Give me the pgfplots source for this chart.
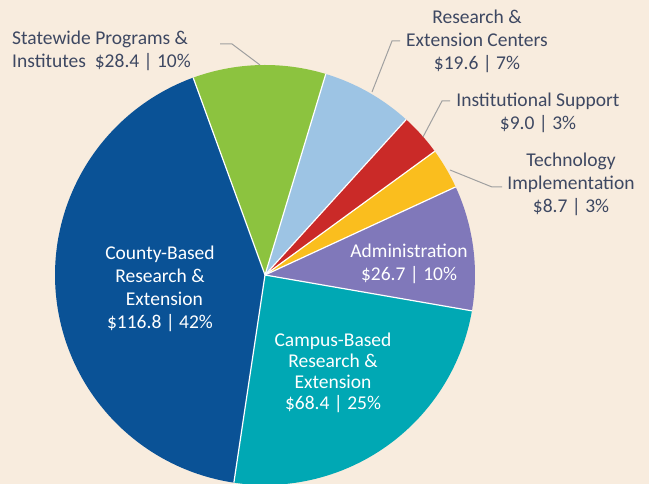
\documentclass[border=0pt]{standalone}
\usepackage{fontspec}
\setmainfont{Carlito}
\usepackage{pgfplots}
\usepackage{pgfplotstable}
\pgfplotsset{compat=1.18}

\definecolor{bgbeige}{RGB}{248,236,222}
\definecolor{county}{RGB}{10,82,150}
\definecolor{campus}{RGB}{0,168,180}
\definecolor{admin}{RGB}{128,120,186}
\definecolor{tech}{RGB}{250,190,30}
\definecolor{inst}{RGB}{202,42,40}
\definecolor{centers}{RGB}{157,196,228}
\definecolor{statewide}{RGB}{140,195,63}
\definecolor{labeltext}{RGB}{62,72,98}
\definecolor{leader}{RGB}{160,160,160}

\tikzset{lbl/.style={font=\fontsize{19.5}{23}\selectfont, inner sep=0pt}}

% budget in $ millions
\pgfplotstableread{
part value
county 116.8
campus 68.4
admin 26.7
tech 8.7
inst 9.0
centers 19.6
statewide 28.4
}\budget

\begin{document}
\begin{tikzpicture}
\pgfplotstablegetelem{0}{value}\of\budget \let\vCounty\pgfplotsretval
\pgfplotstablegetelem{1}{value}\of\budget \let\vCampus\pgfplotsretval
\pgfplotstablegetelem{2}{value}\of\budget \let\vAdmin\pgfplotsretval
\pgfplotstablegetelem{3}{value}\of\budget \let\vTech\pgfplotsretval
\pgfplotstablegetelem{4}{value}\of\budget \let\vInst\pgfplotsretval
\pgfplotstablegetelem{5}{value}\of\budget \let\vCenters\pgfplotsretval
\pgfplotstablegetelem{6}{value}\of\budget \let\vStatewide\pgfplotsretval
\pgfmathsetmacro\k{360/(\vCounty+\vCampus+\vAdmin+\vTech+\vInst+\vCenters+\vStatewide)}
% slice boundaries, clockwise from the county/statewide edge
\pgfmathsetmacro\aA{110}
\pgfmathsetmacro\aB{\aA-\vStatewide*\k}
\pgfmathsetmacro\aC{\aB-\vCenters*\k}
\pgfmathsetmacro\aD{\aC-\vInst*\k}
\pgfmathsetmacro\aE{\aD-\vTech*\k}
\pgfmathsetmacro\aF{\aE-\vAdmin*\k}
\pgfmathsetmacro\aG{\aF-\vCampus*\k}
\pgfmathsetmacro\aH{\aA-360}
\begin{axis}[
x=1pt, y=1pt,
xmin=0, xmax=649, ymin=0, ymax=484,
axis lines=none,
ticks=none,
no markers,
clip=true,
]
\fill[bgbeige] (axis cs:0,0) rectangle (axis cs:649,484);

\addplot[fill=statewide, draw=none, domain=\aB:\aA, samples=60, variable=\t] ({265+210*cos(\t)},{209+210*sin(\t)}) -- (axis cs:265,209) -- cycle;
\addplot[fill=centers, draw=none, domain=\aC:\aB, samples=60, variable=\t] ({265+210*cos(\t)},{209+210*sin(\t)}) -- (axis cs:265,209) -- cycle;
\addplot[fill=inst, draw=none, domain=\aD:\aC, samples=40, variable=\t] ({265+210*cos(\t)},{209+210*sin(\t)}) -- (axis cs:265,209) -- cycle;
\addplot[fill=tech, draw=none, domain=\aE:\aD, samples=40, variable=\t] ({265+210*cos(\t)},{209+210*sin(\t)}) -- (axis cs:265,209) -- cycle;
\addplot[fill=admin, draw=none, domain=\aF:\aE, samples=60, variable=\t] ({265+210*cos(\t)},{209+210*sin(\t)}) -- (axis cs:265,209) -- cycle;
\addplot[fill=campus, draw=none, domain=\aG:\aF, samples=100, variable=\t] ({265+210*cos(\t)},{209+210*sin(\t)}) -- (axis cs:265,209) -- cycle;
\addplot[fill=county, draw=none, domain=\aH:\aG, samples=120, variable=\t] ({265+210*cos(\t)},{209+210*sin(\t)}) -- (axis cs:265,209) -- cycle;

% white separators
\draw[white, line width=1.2pt] (axis cs:265,209) -- ++(\aA:210pt);
\draw[white, line width=1.2pt] (axis cs:265,209) -- ++(\aB:210pt);
\draw[white, line width=1.2pt] (axis cs:265,209) -- ++(\aC:210pt);
\draw[white, line width=1.2pt] (axis cs:265,209) -- ++(\aD:210pt);
\draw[white, line width=1.2pt] (axis cs:265,209) -- ++(\aE:210pt);
\draw[white, line width=1.2pt] (axis cs:265,209) -- ++(\aF:210pt);
\draw[white, line width=1.2pt] (axis cs:265,209) -- ++(\aG:210pt);

% leader lines
\draw[leader, line width=1pt] (axis cs:220,440) -- (axis cs:232,440) -- (axis cs:260,419);
\draw[leader, line width=1pt] (axis cs:400,443) -- (axis cs:392,443) -- (axis cs:372,392);
\draw[leader, line width=1pt] (axis cs:450,383) -- (axis cs:442,383) -- (axis cs:423,347);
\draw[leader, line width=1pt] (axis cs:502,297) -- (axis cs:492,297) -- (axis cs:450,314);

% labels
\node[lbl, labeltext, align=left, anchor=north west] at (axis cs:12,453) {Statewide Programs \&\\Institutes~~\$28.4 | 10\%};
\node[lbl, labeltext, align=center, anchor=north] at (axis cs:477,474) {Research \&\\Extension Centers\\\$19.6 | 7\%};
\node[lbl, labeltext, align=center, anchor=north] at (axis cs:538,391) {Institutional Support\\\$9.0 | 3\%};
\node[lbl, labeltext, align=center, anchor=north] at (axis cs:571,331) {Technology\\Implementation\\\$8.7 | 3\%};
\node[lbl, white, align=center, anchor=north] at (axis cs:160,238) {County-Based\\Research \&\\~~Extension\\\$116.8 | 42\%};
\node[lbl, white, align=center, anchor=north] at (axis cs:409,240) {Administration\\\$26.7 | 10\%};
\node[lbl, white, align=center, anchor=north, font=\fontsize{19.5}{21}\selectfont] at (axis cs:333,151) {Campus-Based\\Research \&\\Extension\\\$68.4 | 25\%};
\end{axis}
\pgfresetboundingbox
\path (current axis.south west) rectangle (current axis.north east);
\end{tikzpicture}
\end{document}
